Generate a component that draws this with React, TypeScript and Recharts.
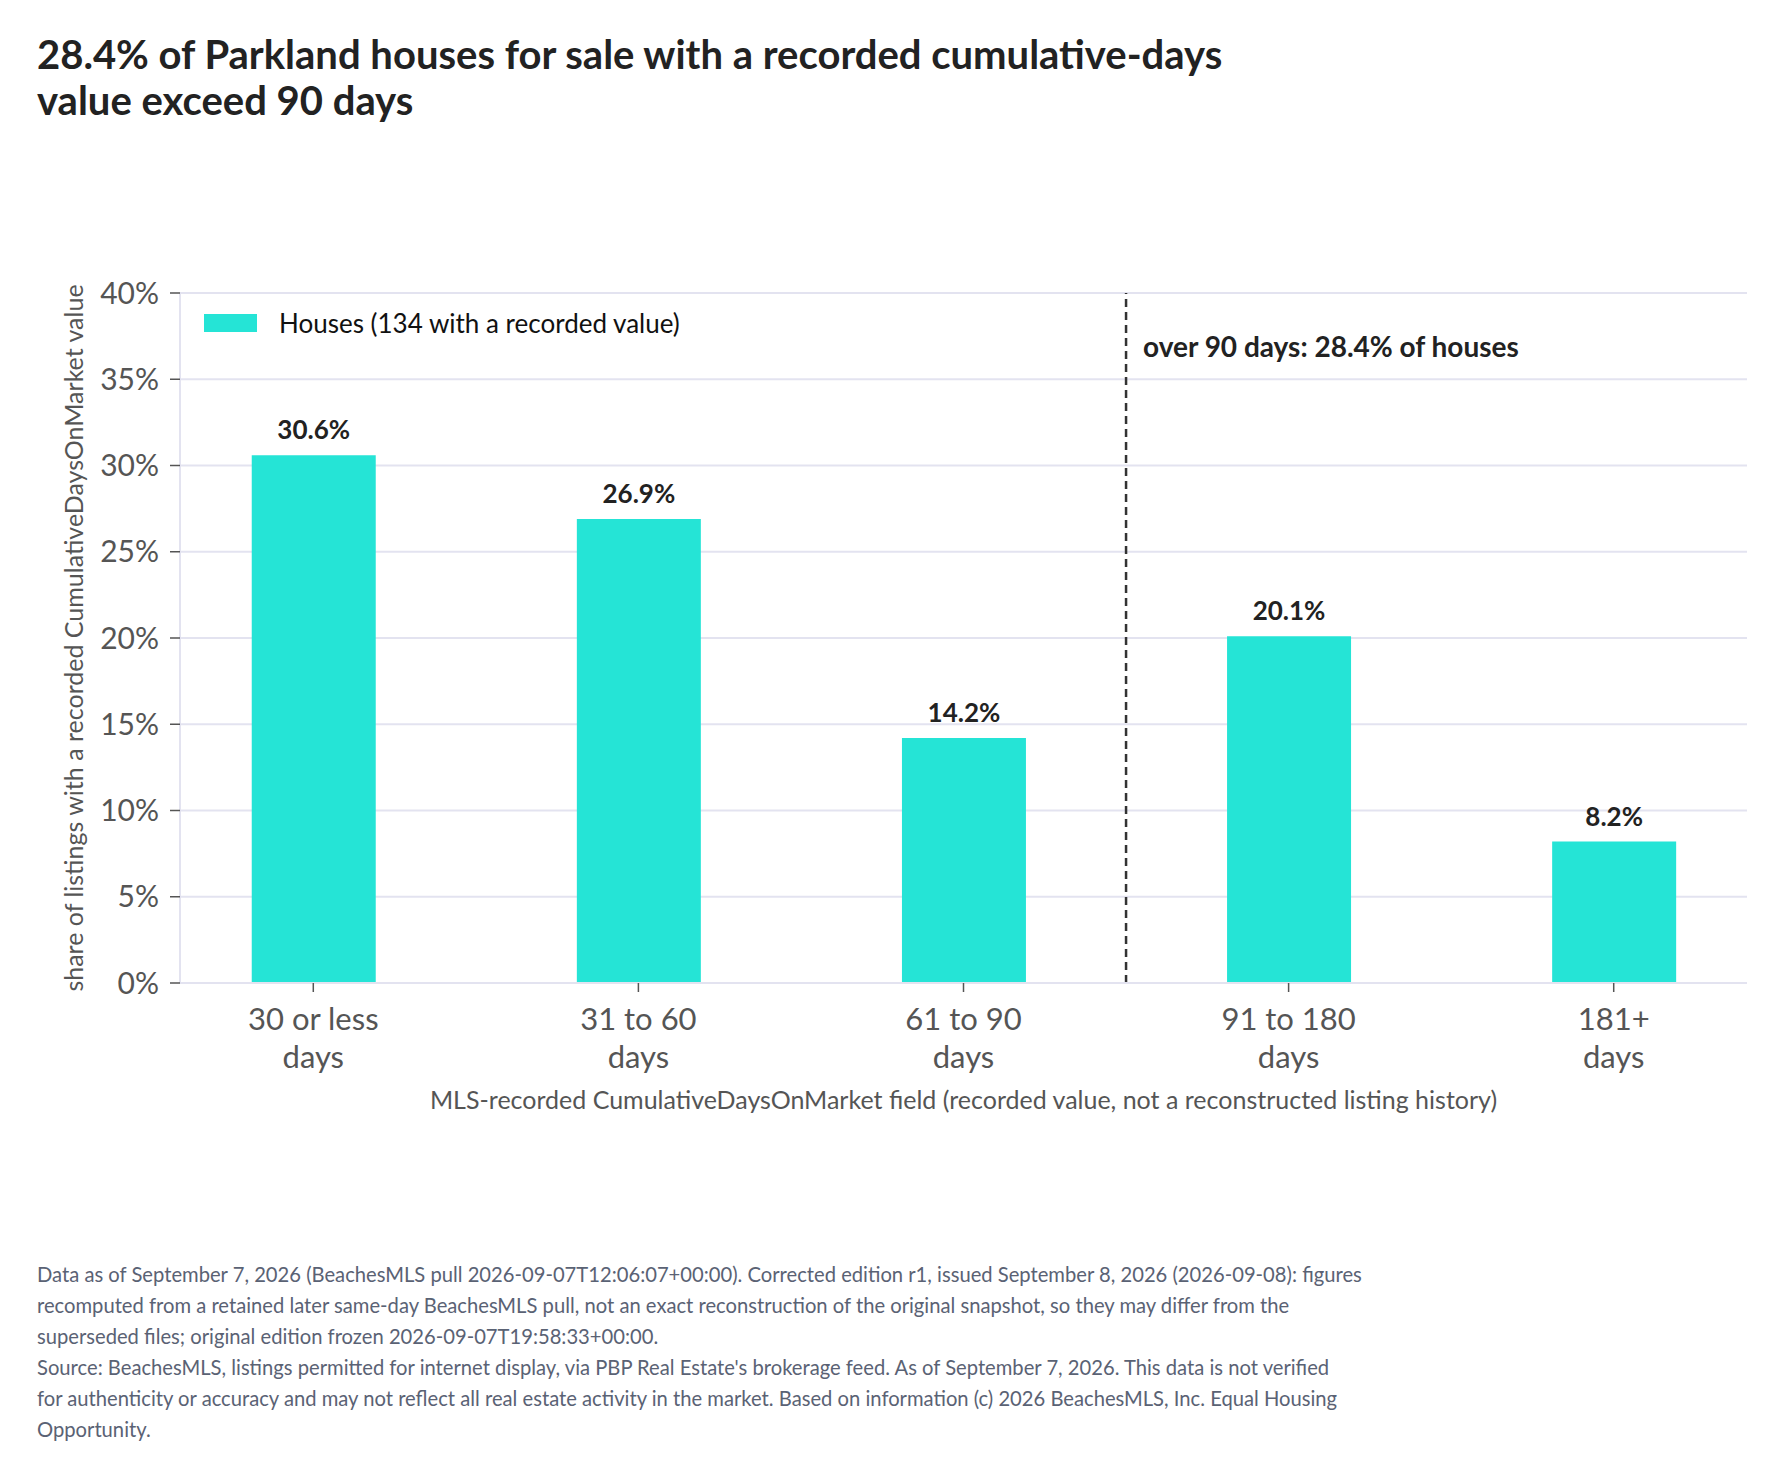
import React from "react";
import {
  BarChart,
  Bar,
  XAxis,
  YAxis,
  CartesianGrid,
  ReferenceLine,
  LabelList,
} from "recharts";

// bins of the MLS CumulativeDaysOnMarket field
const categories = [
  "30 or less days",
  "31 to 60 days",
  "61 to 90 days",
  "91 to 180 days",
  "181+ days",
];
const shares = [30.6, 26.9, 14.2, 20.1, 8.2];
const yTicks = [0, 5, 10, 15, 20, 25, 30, 35, 40];
const xTicks = [0, 1, 2, 3, 4];
const cutoff = 2.5; // between 61-90 and 91-180

const titleLines = [
  "28.4% of Parkland houses for sale with a recorded cumulative-days",
  "value exceed 90 days",
];
const legendText = "Houses (134 with a recorded value)";
const annotation = "over 90 days: 28.4% of houses";
const yLabel = "share of listings with a recorded CumulativeDaysOnMarket value";
const xLabel =
  "MLS-recorded CumulativeDaysOnMarket field (recorded value, not a reconstructed listing history)";
const footerLines = [
  "Data as of September 7, 2026 (BeachesMLS pull 2026-09-07T12:06:07+00:00). Corrected edition r1, issued September 8, 2026 (2026-09-08): figures",
  "recomputed from a retained later same-day BeachesMLS pull, not an exact reconstruction of the original snapshot, so they may differ from the",
  "superseded files; original edition frozen 2026-09-07T19:58:33+00:00.",
  "Source: BeachesMLS, listings permitted for internet display, via PBP Real Estate's brokerage feed. As of September 7, 2026. This data is not verified",
  "for authenticity or accuracy and may not reflect all real estate activity in the market. Based on information (c) 2026 BeachesMLS, Inc. Equal Housing",
  "Opportunity.",
];

const data = categories.map((name, i) => ({ idx: i, name, share: shares[i] }));

const BAR = "#25e4d6";
const GRID = "#e3e3f0";
const GRAY = "#555";

const XTick = (props: any) => {
  const { x, y, payload } = props;
  const label = categories[payload.value] ?? "";
  const cut = label.lastIndexOf(" ");
  const lines = [label.slice(0, cut), label.slice(cut + 1)];
  return (
    <text x={x} y={y} textAnchor="middle" fill={GRAY} fontSize={31}>
      {lines.map((l, i) => (
        <tspan key={i} x={x} dy={i === 0 ? 36 : 38}>
          {l}
        </tspan>
      ))}
    </text>
  );
};

export default function App() {
  return (
    <div
      style={{
        position: "absolute",
        left: 0,
        top: 0,
        width: 1782,
        height: 1477,
        background: "#fff",
        fontFamily: "Lato, sans-serif",
        overflow: "hidden",
      }}
    >
      <div
        style={{
          position: "absolute",
          left: 37,
          top: 31,
          fontSize: 40,
          lineHeight: "46px",
          fontWeight: 700,
          color: "#222",
          whiteSpace: "nowrap",
        }}
      >
        {titleLines.map((l, i) => (
          <div key={i}>{l}</div>
        ))}
      </div>

      <BarChart
        width={1782}
        height={1160}
        data={data}
        margin={{ top: 293, right: 35, bottom: 47, left: 0 }}
        style={{ position: "absolute", left: 0, top: 0 }}
      >
        <CartesianGrid vertical={false} stroke={GRID} strokeWidth={2} />
        <XAxis
          dataKey="idx"
          type="number"
          domain={[-0.41, 4.41]}
          ticks={xTicks}
          allowDecimals={false}
          height={130}
          tick={<XTick />}
          tickSize={9}
          tickMargin={2}
          tickLine={{ stroke: GRAY, strokeWidth: 1.5 }}
          axisLine={{ stroke: GRID, strokeWidth: 2 }}
          label={(p: any) => {
            const vb = p.viewBox;
            return (
              <text
                x={vb.x + vb.width / 2}
                y={vb.y + 126}
                textAnchor="middle"
                fill={GRAY}
                fontSize={25}
              >
                {xLabel}
              </text>
            );
          }}
        />
        <YAxis
          type="number"
          domain={[0, 40]}
          ticks={yTicks}
          width={180}
          tickFormatter={(v: number) => `${v}%`}
          tick={{ fill: GRAY, fontSize: 30 }}
          tickSize={10}
          tickMargin={11}
          tickLine={{ stroke: GRAY, strokeWidth: 1.5 }}
          axisLine={{ stroke: GRID, strokeWidth: 2 }}
          label={(p: any) => {
            const vb = p.viewBox;
            const cy = vb.y + vb.height / 2;
            return (
              <text
                x={83}
                y={cy}
                transform={`rotate(-90 83 ${cy})`}
                textAnchor="middle"
                fill={GRAY}
                fontSize={25}
              >
                {yLabel}
              </text>
            );
          }}
        />
        <ReferenceLine
          x={cutoff}
          stroke="#333"
          strokeWidth={2.5}
          strokeDasharray="8 5"
          label={(p: any) => {
            const vb = p.viewBox;
            return (
              <text
                x={vb.x + 17}
                y={vb.y + 64}
                fill="#222"
                fontSize={28}
                fontWeight={700}
              >
                {annotation}
              </text>
            );
          }}
        />
        <Bar dataKey="share" fill={BAR} barSize={124} isAnimationActive={false}>
          <LabelList
            dataKey="share"
            position="top"
            offset={16}
            formatter={(v: any) => `${Number(v).toFixed(1)}%`}
            fill="#222"
            fontSize={26}
            fontWeight={700}
          />
        </Bar>
      </BarChart>

      <div
        style={{
          position: "absolute",
          left: 204,
          top: 307,
          display: "flex",
          alignItems: "center",
          fontSize: 26,
          color: "#111",
        }}
      >
        <span
          style={{
            display: "inline-block",
            width: 53,
            height: 18,
            background: BAR,
            marginRight: 22,
          }}
        />
        <span>{legendText}</span>
      </div>

      <div
        style={{
          position: "absolute",
          left: 37,
          top: 1259,
          fontSize: 20.2,
          lineHeight: "31px",
          color: "#5a6274",
          whiteSpace: "nowrap",
        }}
      >
        {footerLines.map((l, i) => (
          <div key={i}>{l}</div>
        ))}
      </div>
    </div>
  );
}
